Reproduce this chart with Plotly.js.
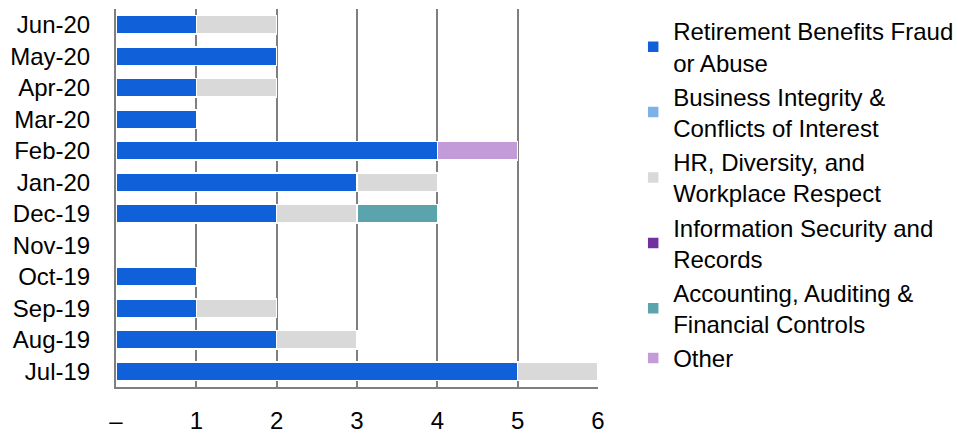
<!DOCTYPE html>
<html>
<head>
<meta charset="utf-8">
<script src="https://cdn.plot.ly/plotly-3.0.1.min.js"></script>
<style>html,body{margin:0;padding:0;background:#fff;}#chart{width:958px;height:433px;}</style>
</head>
<body>
<div id="chart"></div>
<script>
const months = ["Jul-19","Aug-19","Sep-19","Oct-19","Nov-19","Dec-19","Jan-20","Feb-20","Mar-20","Apr-20","May-20","Jun-20"];
const retirement = [5,2,1,1,0,2,3,4,1,1,2,1];
const business   = [0,0,0,0,0,0,0,0,0,0,0,0];
const hr         = [1,1,1,0,0,1,1,0,0,1,0,1];
const infosec    = [0,0,0,0,0,0,0,0,0,0,0,0];
const accounting = [0,0,0,0,0,1,0,0,0,0,0,0];
const other      = [0,0,0,0,0,0,0,1,0,0,0,0];
const xTickVals = [0,1,2,3,4,5,6];
const xTickText = ["–","1","2","3","4","5","6"];

const series = [
  {name:"Retirement Benefits Fraud<br>or Abuse", vals:retirement, color:"#1061D9"},
  {name:"Business Integrity &<br>Conflicts of Interest", vals:business, color:"#7EB1E6"},
  {name:"HR, Diversity, and<br>Workplace Respect", vals:hr, color:"#D9D9D9"},
  {name:"Information Security and<br>Records", vals:infosec, color:"#7030A0"},
  {name:"Accounting, Auditing &<br>Financial Controls", vals:accounting, color:"#5BA3AD"},
  {name:"Other", vals:other, color:"#C39BD9"}
];

const traces = series.map(s => ({
  type:"bar", orientation:"h", y:months, x:s.vals, name:s.name,
  marker:{color:s.color, line:{color:"#ffffff", width:1.5}},
  width:0.6, hoverinfo:"x+y+name"
}));

const layout = {
  width:958, height:433,
  margin:{l:116, r:360, t:9, b:46, autoexpand:false},
  barmode:"stack",
  paper_bgcolor:"#fff", plot_bgcolor:"#fff",
  font:{family:"Liberation Sans, Arial, sans-serif", size:24, color:"#000"},
  xaxis:{range:[0,6], tickvals:xTickVals, ticktext:xTickText, showgrid:true, gridcolor:"#7f7f7f", gridwidth:2,
         zeroline:false, showline:true, linecolor:"#7f7f7f", linewidth:2, ticks:"", ticklabelstandoff:11,
         tickfont:{size:24}, automargin:false},
  yaxis:{type:"category", categoryarray:months, range:[-0.5,11.5], showgrid:false, zeroline:false,
         showline:true, linecolor:"#7f7f7f", linewidth:2, ticks:"", ticklabelstandoff:19, tickfont:{size:24},
         automargin:false},
  legend:{x:1.073, y:1.0, xanchor:"left", yanchor:"top", traceorder:"normal", font:{size:24},
          itemwidth:30, bgcolor:"rgba(0,0,0,0)"},
  showlegend:true,
  bargap:0.4
};

Plotly.newPlot("chart", traces, layout, {displayModeBar:false, staticPlot:true});
</script>
</body>
</html>
